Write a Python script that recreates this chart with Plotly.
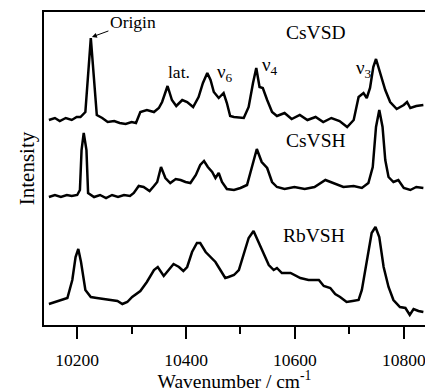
import plotly.graph_objects as go

# ---- data (wavenumber in cm^-1, intensity in arbitrary units incl. vertical offset) ----
csvsd_x = [10148, 10159, 10168, 10179, 10190, 10199, 10206, 10215, 10225, 10231, 10236, 10246,
           10256, 10268, 10278, 10289, 10300, 10308, 10316, 10328, 10341, 10350, 10356, 10366,
           10374, 10382, 10393, 10402, 10413, 10423, 10431, 10439, 10445, 10451, 10460, 10469,
           10475, 10481, 10488, 10506, 10515, 10523, 10529, 10535, 10541, 10549, 10558, 10567,
           10581, 10594, 10609, 10623, 10638, 10652, 10667, 10682, 10696, 10708, 10717, 10726,
           10732, 10738, 10744, 10749, 10757, 10766, 10775, 10787, 10800, 10806, 10812, 10823, 10836]
csvsd_y = [205, 207, 204, 207, 205, 208, 208, 213, 287, 245, 210, 207,
           203, 204, 202, 201, 203, 202, 213, 215, 213, 217, 223, 239,
           225, 219, 225, 223, 218, 228, 242, 252, 245, 233, 227, 232,
           222, 209, 208, 207, 218, 242, 257, 238, 237, 225, 213, 209,
           212, 206, 210, 205, 208, 203, 207, 204, 198, 205, 228, 232,
           227, 237, 258, 266, 252, 235, 223, 216, 220, 223, 217, 219, 220]

csvsh_x = [10148, 10159, 10170, 10181, 10190, 10200, 10205, 10208, 10212, 10217, 10220, 10231,
           10242, 10253, 10264, 10275, 10286, 10297, 10304, 10313, 10322, 10333, 10341, 10347,
           10354, 10362, 10371, 10381, 10390, 10399, 10408, 10418, 10426, 10433, 10440, 10448,
           10454, 10460, 10466, 10475, 10488, 10500, 10512, 10521, 10530, 10539, 10549, 10558,
           10567, 10581, 10599, 10618, 10636, 10656, 10671, 10689, 10708, 10723, 10735, 10743,
           10749, 10755, 10761, 10766, 10772, 10781, 10790, 10800, 10812, 10823, 10836]
csvsh_y = [128, 130, 128, 130, 129, 130, 135, 175, 192, 175, 132, 128,
           130, 127, 130, 128, 130, 129, 132, 139, 138, 134, 139, 143,
           158, 147, 142, 146, 145, 143, 142, 150, 160, 164, 158, 153,
           147, 152, 143, 136, 135, 137, 140, 158, 176, 163, 157, 143,
           138, 136, 138, 136, 138, 145, 142, 138, 139, 137, 142, 158,
           198, 215, 198, 165, 148, 143, 145, 137, 135, 138, 137]

rbvsh_x = [10148, 10160, 10170, 10182, 10191, 10197, 10202, 10207, 10215, 10225, 10236, 10249,
           10260, 10274, 10283, 10292, 10301, 10316, 10328, 10341, 10348, 10359, 10368, 10377,
           10387, 10395, 10402, 10411, 10420, 10426, 10436, 10445, 10454, 10463, 10472, 10478,
           10488, 10497, 10506, 10515, 10524, 10533, 10543, 10552, 10561, 10567, 10576, 10592,
           10610, 10625, 10644, 10653, 10665, 10674, 10683, 10695, 10706, 10717, 10723, 10732,
           10741, 10748, 10755, 10763, 10772, 10781, 10793, 10803, 10811, 10818, 10827, 10836]
rbvsh_y = [21, 23, 25, 27, 45, 68, 76, 63, 35, 28, 27, 26,
           25, 24, 21, 23, 28, 34, 43, 55, 58, 49, 55, 61,
           58, 54, 58, 73, 82, 82, 73, 68, 63, 55, 47, 48,
           50, 55, 70, 87, 94, 83, 70, 60, 55, 57, 52, 52,
           47, 45, 45, 39, 37, 31, 28, 23, 24, 25, 35, 65,
           92, 98, 88, 58, 38, 25, 18, 17, 10, 16, 14, 13]

series_names = ["CsVSD", "CsVSH", "RbVSH"]
x_ticks = [10200, 10400, 10600, 10800]
x_tick_labels = ["10200", "10400", "10600", "10800"]
x_minor_ticks = [10300, 10500, 10700]

FONT = "Liberation Serif"

fig = go.Figure()
for name, xs, ys in [("CsVSD", csvsd_x, csvsd_y), ("CsVSH", csvsh_x, csvsh_y), ("RbVSH", rbvsh_x, rbvsh_y)]:
    fig.add_trace(go.Scatter(x=xs, y=ys, mode="lines", name=name,
                             line=dict(color="black", width=2.5), showlegend=False))

# series labels
label_pos = {"CsVSD": (10638, 293), "CsVSH": (10638, 185), "RbVSH": (10635, 90)}
for name in series_names:
    lx, ly = label_pos[name]
    fig.add_annotation(x=lx, y=ly, text=name, showarrow=False,
                       font=dict(family=FONT, size=19.5, color="black"))

# peak labels
fig.add_annotation(x=10227, y=288, text="Origin", showarrow=True, ax=41, ay=-15,
                   arrowhead=2, arrowsize=1, arrowwidth=1, arrowcolor="black",
                   font=dict(family=FONT, size=17.5, color="black"))
fig.add_annotation(x=10387, y=253, text="lat.", showarrow=False,
                   font=dict(family=FONT, size=17.5, color="black"))
for txt, lx, ly in [("ν<sub>6</sub>", 10454, 252), ("ν<sub>4</sub>", 10536, 259), ("ν<sub>3</sub>", 10709, 256)]:
    fig.add_annotation(x=lx, y=ly, text=txt, showarrow=False, xanchor="left",
                       font=dict(family=FONT, size=19, color="black"))

fig.update_layout(
    width=425, height=392,
    margin=dict(l=44, r=0, t=12, b=67),
    paper_bgcolor="white", plot_bgcolor="white",
    font=dict(family=FONT, size=17, color="black"),
    xaxis=dict(range=[10139, 10839], tickmode="array", tickvals=x_ticks, ticktext=x_tick_labels,
               ticks="outside", ticklen=12, tickwidth=2, tickcolor="black",
               ticklabelstandoff=6, ticklabeloverflow="allow",
               showline=True, linewidth=2, linecolor="black", mirror=True,
               showgrid=False, zeroline=False,
               minor=dict(tickmode="array", tickvals=x_minor_ticks, ticks="outside", ticklen=7,
                          tickwidth=2, tickcolor="black", showgrid=False),
               tickfont=dict(family=FONT, size=17.5, color="black"),
               title=dict(text="Wavenumber / cm<sup>-1</sup>", standoff=2,
                          font=dict(family=FONT, size=19.5, color="black"))),
    yaxis=dict(range=[0, 313], showticklabels=False, ticks="",
               showline=True, linewidth=2, linecolor="black",
               showgrid=False, zeroline=False,
               title=dict(text="Intensity", standoff=2,
                          font=dict(family=FONT, size=21, color="black"))),
)

fig.write_html("out.html")
